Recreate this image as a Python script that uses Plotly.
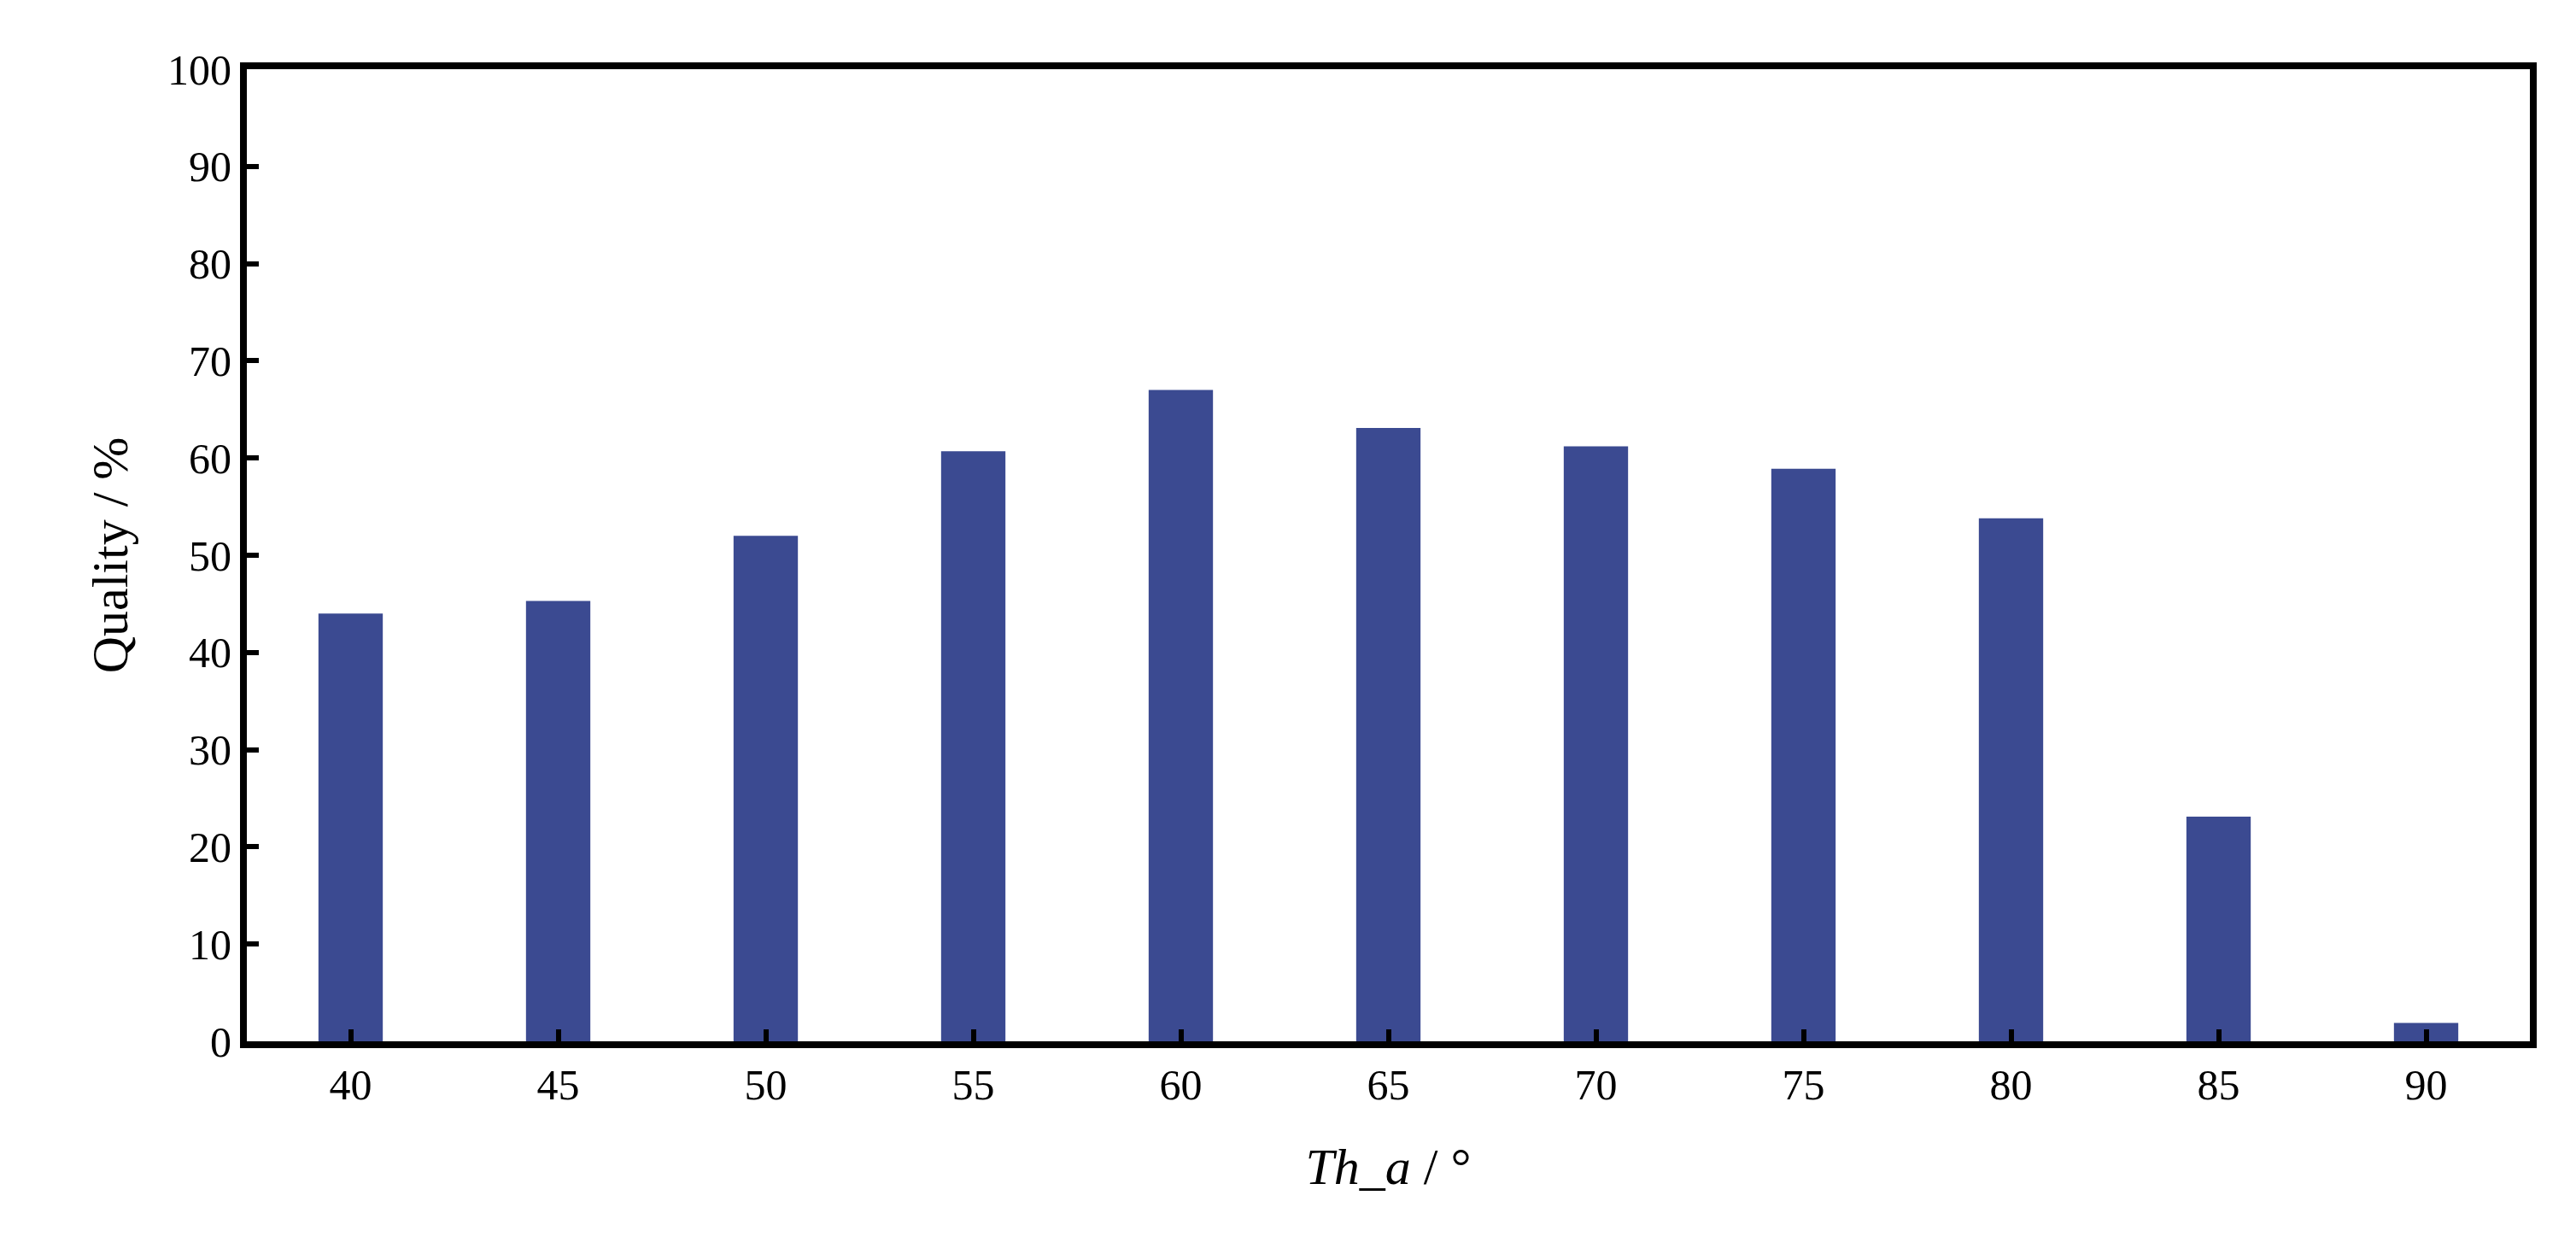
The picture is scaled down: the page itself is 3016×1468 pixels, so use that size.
import plotly.graph_objects as go

angles = ["40", "45", "50", "55", "60", "65", "70", "75", "80", "85", "90"]
quality = [44.0, 45.3, 52.0, 60.7, 67.0, 63.1, 61.2, 58.9, 53.8, 23.1, 1.9]

fig = go.Figure(go.Bar(x=angles, y=quality, marker_color="#3b4a91",
                       marker_line_width=0, width=0.31))

font = dict(family="Liberation Serif", size=50, color="black")
fig.update_layout(
    width=3016, height=1468,
    paper_bgcolor="white", plot_bgcolor="white",
    margin=dict(l=281, r=62, t=73, b=257),
    font=font, showlegend=False,
    xaxis=dict(title=dict(text="<i>Th_a</i> / °", standoff=50),
               showline=True, linecolor="black", linewidth=8, mirror=True,
               ticks="inside", ticklen=14, tickwidth=6, tickcolor="black",
               showgrid=False),
    yaxis=dict(title=dict(text="Quality / %", standoff=30),
               range=[0, 100], dtick=10,
               showline=True, linecolor="black", linewidth=8, mirror=True,
               ticks="inside", ticklen=14, tickwidth=6, tickcolor="black",
               showgrid=False, zeroline=False),
)

fig.write_html("out.html")
